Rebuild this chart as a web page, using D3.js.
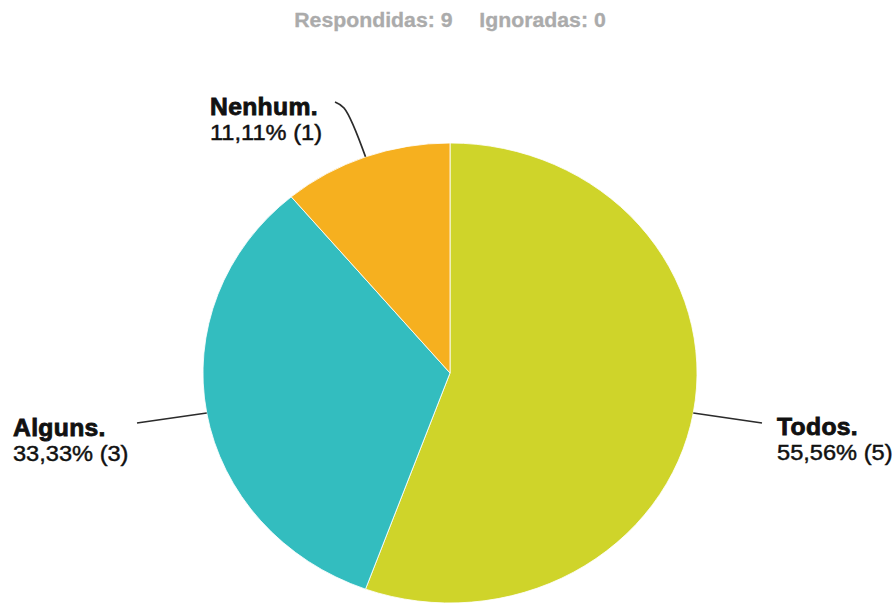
<!DOCTYPE html>
<html>
<head>
<meta charset="utf-8">
<script src="https://cdn.jsdelivr.net/npm/d3@7/dist/d3.min.js"></script>
<style>
  html, body { margin: 0; padding: 0; background: #fff; }
  svg { display: block; }
  text { font-family: "Liberation Sans", Arial, Helvetica, sans-serif; }
</style>
</head>
<body>
<svg id="chart" width="896" height="603"></svg>
<script>
const categories = ["Todos.", "Alguns.", "Nenhum."];
const values = [5, 3, 1];
const colors = ["#CFD42A", "#33BDBF", "#F6B01F"];
const headerLabels = ["Respondidas: 9", "Ignoradas: 0"];

const W = 896, H = 603;
const sx = 1.074;            // horizontal stretch of the whole drawing
const cx = 450 / sx, cy = 373, R = 230;

const svg = d3.select("#chart");
const root = svg.append("g").attr("transform", `scale(${sx},1)`);

// header
const header = root.append("text")
  .attr("x", 450 / sx).attr("y", 27)
  .attr("text-anchor", "middle")
  .attr("fill", "#ababab")
  .attr("stroke", "#ababab").attr("stroke-width", 0.3)
  .attr("font-weight", "bold")
  .attr("font-size", 19.8);
header.append("tspan").text(headerLabels[0]);
header.append("tspan").attr("dx", 25).text(headerLabels[1]);

const total = d3.sum(values);
const data = categories.map((c, i) => ({ cat: c, value: values[i], color: colors[i] }));
const pie = d3.pie().value(d => d.value).sort(null);
const arcs = pie(data);
const arc = d3.arc().innerRadius(0).outerRadius(R);

const g = root.append("g").attr("transform", `translate(${cx},${cy})`);
g.selectAll("path.slice").data(arcs).join("path")
  .attr("class", "slice")
  .attr("d", arc)
  .attr("fill", d => d.data.color)
  .attr("stroke", "#fff")
  .attr("stroke-width", 0.8);

// label layout (positions in stretched space / sx)
const labelPos = {
  "Todos.":  { tx: 777 / sx, ty: 435, end: [762 / sx, 423], mid: null },
  "Alguns.": { tx: 13 / sx,  ty: 436, end: [137 / sx, 423], mid: null },
  "Nenhum.": { tx: 210 / sx, ty: 115, end: [335 / sx, 102], mid: [[344 / sx, 108]] }
};

const fmt = v => (v / total * 100).toFixed(2).replace(".", ",") + "% (" + v + ")";
const line = d3.line().curve(d3.curveCatmullRom.alpha(0.5));

arcs.forEach(a => {
  const p = labelPos[a.data.cat];
  const ang = (a.startAngle + a.endAngle) / 2;
  const edge = [cx + R * Math.sin(ang), cy - R * Math.cos(ang)];
  const pts = [edge].concat(p.mid || []).concat([p.end]);
  root.append("path")
    .attr("d", line(pts))
    .attr("fill", "none")
    .attr("stroke", "#2b2b2b")
    .attr("stroke-width", 1.6);
  const t = root.append("text").attr("fill", "#111").attr("stroke", "#111");
  t.append("tspan").attr("x", p.tx).attr("y", p.ty)
    .attr("font-weight", "bold").attr("font-size", 23)
    .attr("stroke-width", 0.8).attr("letter-spacing", 0.3).text(a.data.cat);
  t.append("tspan").attr("x", p.tx).attr("y", p.ty + 25.5)
    .attr("font-size", 22).attr("stroke-width", 0.45).text(fmt(a.data.value));
});
</script>
</body>
</html>
